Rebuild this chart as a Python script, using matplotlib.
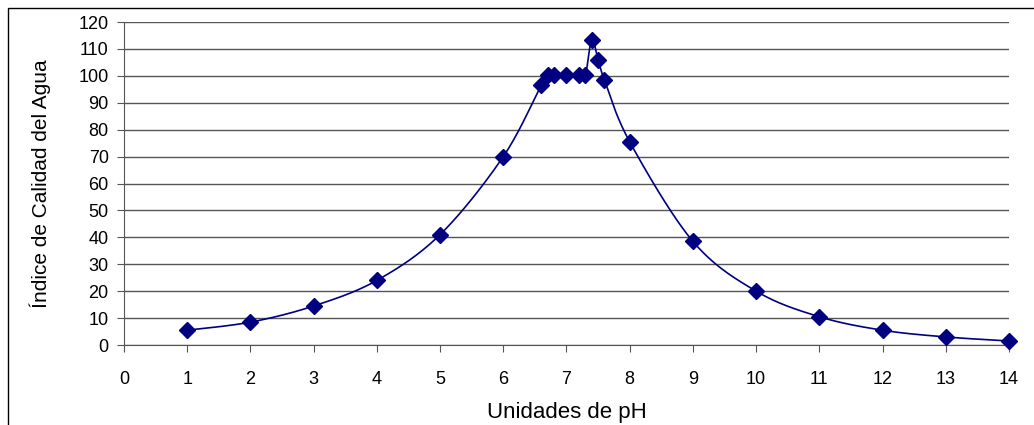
import numpy as np
import matplotlib.pyplot as plt
from matplotlib.patches import Rectangle

# pH vs water quality index values
ph = [1, 2, 3, 4, 5, 6, 6.6, 6.7, 6.8, 7.0, 7.2, 7.3, 7.4, 7.5, 7.6, 8, 9, 10, 11, 12, 13, 14]
ica = [5.5, 8.5, 14.5, 24, 41, 70, 96.5, 100.5, 100.5, 100.5, 100.5, 100.5, 113.5, 106, 98.5,
       75.5, 38.5, 20, 10.5, 5.5, 3, 1.5]

xticks = list(range(0, 15))
yticks = list(range(0, 121, 10))


def smooth_curve(x, y, n=30):
    # Bezier smoothing through the points, similar to spreadsheet "smoothed line"
    x = np.asarray(x, float)
    y = np.asarray(y, float)
    px = np.concatenate([[x[0]], x, [x[-1]]])
    py = np.concatenate([[y[0]], y, [y[-1]]])
    t = np.linspace(0, 1, n)
    xs, ys = [], []
    for i in range(1, len(px) - 2):
        p0 = np.array([px[i], py[i]])
        p3 = np.array([px[i + 1], py[i + 1]])
        c1 = p0 + (np.array([px[i + 1], py[i + 1]]) - np.array([px[i - 1], py[i - 1]])) / 6
        c2 = p3 - (np.array([px[i + 2], py[i + 2]]) - np.array([px[i], py[i]])) / 6
        b = ((1 - t) ** 3)[:, None] * p0 + (3 * (1 - t) ** 2 * t)[:, None] * c1 \
            + (3 * (1 - t) * t ** 2)[:, None] * c2 + (t ** 3)[:, None] * p3
        xs.extend(b[:, 0])
        ys.extend(b[:, 1])
    return xs, ys


plt.rcParams['font.family'] = ['Liberation Sans', 'DejaVu Sans']

fig = plt.figure(figsize=(10.34, 4.25), dpi=100)
ax = fig.add_axes([0.1199, 0.1882, 0.8559, 0.76])

# outer chart border (top and left visible)
fig.patches.append(Rectangle((8 / 1034, -0.5), 2, 1.5 - 8 / 425, transform=fig.transFigure,
                             fill=False, edgecolor='black', linewidth=1))

sx, sy = smooth_curve(ph, ica)
ax.plot(sx, sy, color='#000080', linewidth=1.2, zorder=3)
ax.plot(ph, ica, linestyle='none', marker='D', markersize=8, color='#000080', zorder=4,
        clip_on=False)

ax.set_xlim(0, 14)
ax.set_ylim(0, 120)
ax.set_xticks(xticks)
ax.set_yticks(yticks)
ax.yaxis.grid(True, color='#555555', linewidth=1)
ax.set_axisbelow(True)

for s in ['top', 'right']:
    ax.spines[s].set_visible(False)
ax.spines['left'].set_color('#555555')
ax.spines['bottom'].set_color('#555555')
ax.tick_params(axis='both', colors='#555555', labelcolor='black', labelsize=13, length=5)
ax.tick_params(axis='x', pad=14)
ax.tick_params(axis='y', pad=6)

ax.set_xlabel('Unidades de pH', fontsize=16, labelpad=10)
ax.set_ylabel('Índice de Calidad del Agua', fontsize=15, labelpad=20)

fig.savefig('out.png', dpi=100)
